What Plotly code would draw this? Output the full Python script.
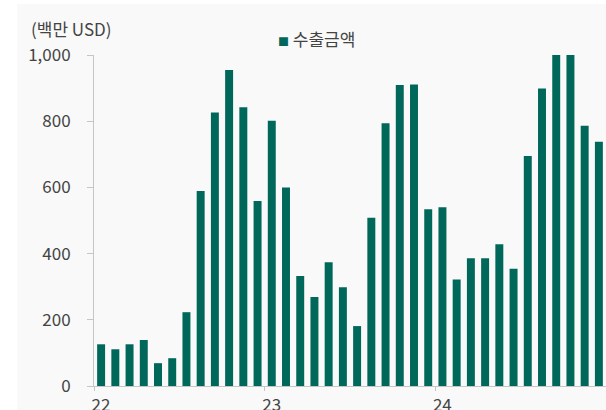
import plotly.graph_objects as go

# Monthly export amount, Jan 2022 - Dec 2024 (million USD)
months = list(range(36))
export_values = [
    126, 111, 126, 139, 69, 84, 223, 589, 826, 955, 842, 559,
    801, 600, 332, 269, 374, 298, 181, 508, 794, 909, 911, 534,
    540, 322, 386, 386, 428, 354, 695, 899, 1000, 1000, 786, 738,
]
year_tick_pos = [-0.5, 11.5, 23.5]
year_labels = ["22", "23", "24"]
y_ticks = [0, 200, 400, 600, 800, 1000]

BAR = "#00685a"
AXIS = "#c6c6c6"
TEXT = "#444444"
FONT = "Noto Sans CJK KR"

fig = go.Figure()
fig.add_trace(go.Bar(
    x=months,
    y=export_values,
    name="수출금액",
    marker=dict(color=BAR, line=dict(width=0)),
    width=0.56,
    showlegend=False,
))

fig.update_layout(
    width=606,
    height=410,
    margin=dict(l=94, r=0, t=55, b=24),
    paper_bgcolor="white",
    plot_bgcolor="rgba(0,0,0,0)",
    font=dict(family=FONT, size=17, color=TEXT),
    bargap=0.44,
    xaxis=dict(
        range=[-0.5, 35.5],
        automargin=False,
        tickmode="array",
        tickvals=year_tick_pos,
        ticktext=year_labels,
        ticks="outside",
        ticklen=4,
        tickcolor=AXIS,
        ticklabelshift=7,
        ticklabelstandoff=0,
        showline=True,
        linecolor=AXIS,
        linewidth=1,
        showgrid=False,
        zeroline=False,
        tickfont=dict(size=17, color=TEXT),
    ),
    yaxis=dict(
        range=[0, 1000],
        automargin=False,
        tickmode="array",
        tickvals=y_ticks,
        tickformat=",",
        ticks="outside",
        ticklen=6,
        tickcolor=AXIS,
        ticklabelstandoff=13,
        showline=True,
        linecolor=AXIS,
        linewidth=1,
        showgrid=False,
        zeroline=False,
        tickfont=dict(size=17, color=TEXT),
    ),
    shapes=[
        # light grey panel behind the chart
        dict(
            type="rect", xref="paper", yref="paper",
            x0=-0.150, x1=1.05, y0=-0.2, y1=1.154,
            fillcolor="#f9f9f9", line=dict(width=0), layer="below",
        ),
    ],
    annotations=[
        dict(
            text="(백만 USD)", xref="paper", yref="paper",
            x=-0.127, y=1.081, xanchor="left", yanchor="middle",
            showarrow=False, font=dict(size=17, color=TEXT),
        ),
        dict(
            text=f"<span style='color:{BAR};font-size:11px'>■</span> 수출금액",
            xref="paper", yref="paper",
            x=0.355, y=1.051, xanchor="left", yanchor="middle",
            showarrow=False, font=dict(size=17, color=TEXT),
        ),
    ],
)

fig.write_html("out.html")
